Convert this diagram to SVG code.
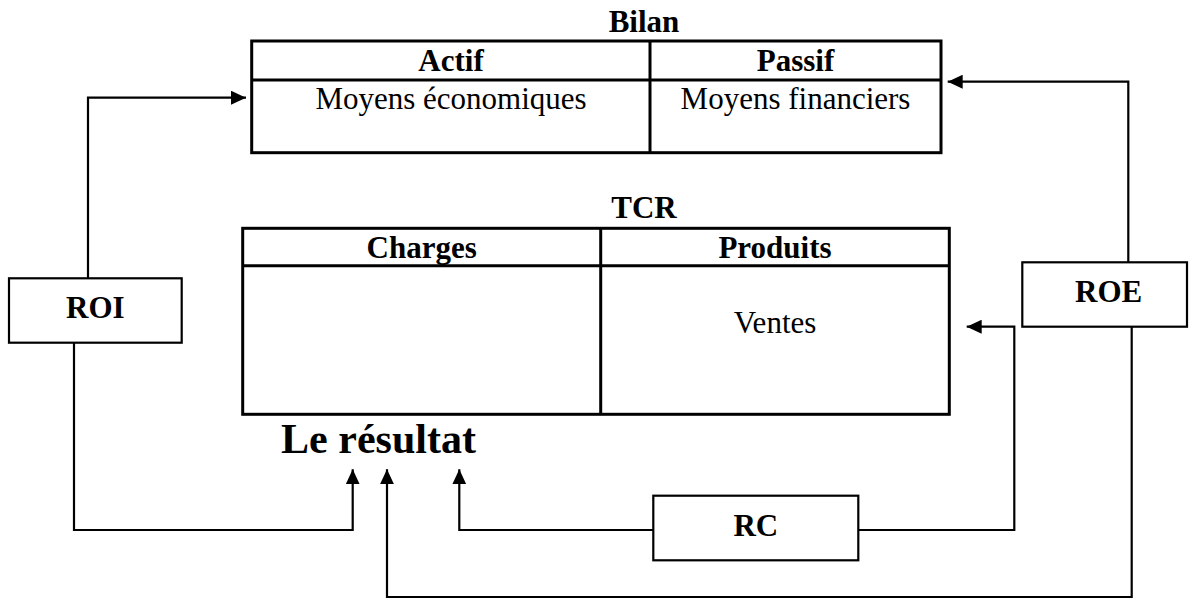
<svg xmlns="http://www.w3.org/2000/svg" width="1190" height="599" viewBox="0 0 1190 599">
<style>
text{font-family:"Liberation Serif","Times New Roman",serif;fill:#000}
.b{font-weight:bold;font-size:31px;text-anchor:middle}
.r{font-size:31px;text-anchor:middle}
.big{font-weight:bold;font-size:42px;text-anchor:middle}
.tbl{fill:none;stroke:#000;stroke-width:3}
.box{fill:#fff;stroke:#000;stroke-width:2.2}
.con{fill:none;stroke:#000;stroke-width:2.2}
</style>
<defs>
<marker id="ah" markerUnits="userSpaceOnUse" markerWidth="16" markerHeight="14" refX="15" refY="7" orient="auto">
<path d="M0,0 L15,7 L0,14 z" fill="#000"/>
</marker>
</defs>
<rect width="1190" height="599" fill="#fff"/>
<g id="bilan">
<text class="b" x="644" y="32">Bilan</text>
<rect class="tbl" x="251.7" y="41" width="689.3" height="111.7"/>
<line class="tbl" x1="251.7" y1="80" x2="941" y2="80"/>
<line class="tbl" x1="650" y1="41" x2="650" y2="152.7"/>
<text class="b" x="451" y="71">Actif</text>
<text class="b" x="795.5" y="71">Passif</text>
<text class="r" x="451" y="109.3">Moyens économiques</text>
<text class="r" x="795.5" y="109.3">Moyens financiers</text>
</g>
<g id="tcr">
<text class="b" x="644" y="218">TCR</text>
<rect class="tbl" x="242.7" y="228.3" width="706.6" height="186"/>
<line class="tbl" x1="242.7" y1="265.7" x2="949.3" y2="265.7"/>
<line class="tbl" x1="600.7" y1="228.3" x2="600.7" y2="414.3"/>
<text class="b" x="421.7" y="258">Charges</text>
<text class="b" x="775" y="258">Produits</text>
<text class="r" x="775" y="333">Ventes</text>
</g>
<g id="resultat">
<text class="big" x="378.5" y="453.3">Le résultat</text>
</g>
<g id="connectors">
<polyline class="con" points="88,278.3 88,97.7 246,97.7" marker-end="url(#ah)"/>
<polyline class="con" points="1128.3,262.3 1128.3,81.7 947.7,81.7" marker-end="url(#ah)"/>
<polyline class="con" points="74,342.7 74,530 352.7,530 352.7,469.3" marker-end="url(#ah)"/>
<polyline class="con" points="653.3,530 459.3,530 459.3,469.3" marker-end="url(#ah)"/>
<polyline class="con" points="858.3,530 1014.3,530 1014.3,326.7 966.7,326.7" marker-end="url(#ah)"/>
<polyline class="con" points="1131.7,326.7 1131.7,597 387,597 387,469.3" marker-end="url(#ah)"/>
</g>
<g id="roi">
<rect class="box" x="9" y="278.3" width="172.7" height="64.4"/>
<text class="b" x="95.3" y="318.3">ROI</text>
</g>
<g id="roe">
<rect class="box" x="1022.3" y="262.3" width="164.7" height="64.4"/>
<text class="b" x="1108.7" y="301.7">ROE</text>
</g>
<g id="rc">
<rect class="box" x="653.3" y="495.7" width="205" height="64.6"/>
<text class="b" x="755.8" y="536">RC</text>
</g>
</svg>
